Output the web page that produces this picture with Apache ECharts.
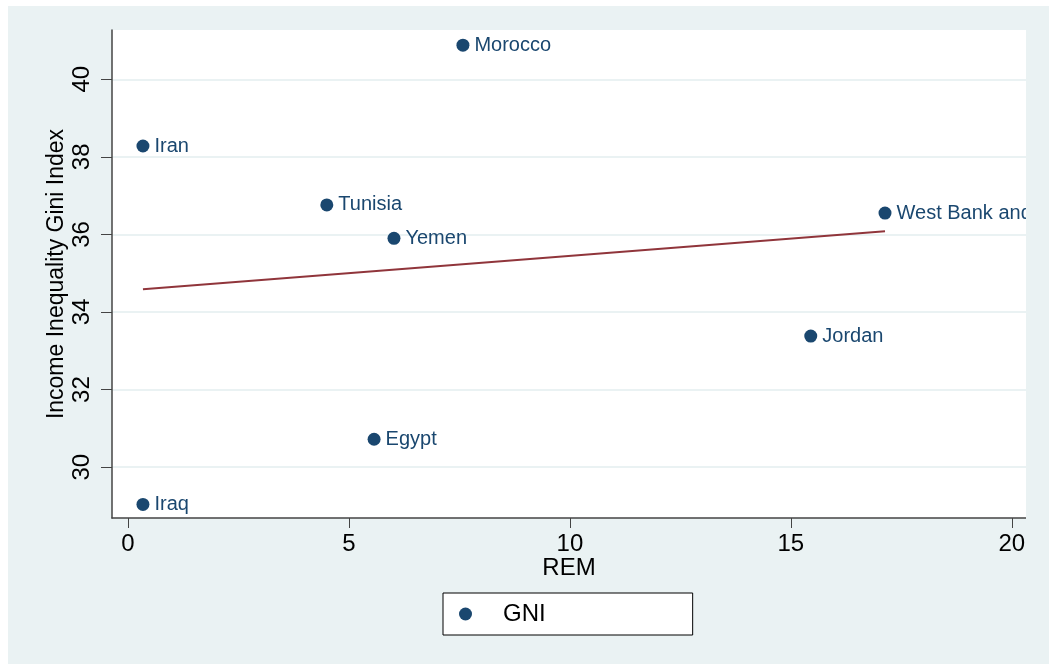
<!DOCTYPE html>
<html>
<head>
<meta charset="utf-8">
<script src="https://cdn.jsdelivr.net/npm/echarts@6/dist/echarts.min.js"></script>
<style>
  html, body { margin: 0; padding: 0; background: #fff; overflow: hidden; }
  #chart { position: absolute; left: 8px; top: 6px; width: 1041px; height: 658px; background: #eaf2f3; }
</style>
</head>
<body>
<div id="chart"></div>
<script>
// country points: REM vs Gini
const countries = ['Morocco', 'Iran', 'Tunisia', 'Yemen', 'West Bank and Gaza', 'Jordan', 'Egypt', 'Iraq'];
const rem = [7.58, 0.34, 4.50, 6.02, 17.13, 15.45, 5.57, 0.34];
const gini = [40.88, 38.28, 36.76, 35.90, 36.55, 33.38, 30.72, 29.04];

// fitted line end points
const fitX = [0.34, 17.13];
const fitY = [34.59, 36.08];

const xTicks = [0, 5, 10, 15, 20];
const yTicks = [30, 32, 34, 36, 38, 40];

const font = "'Liberation Sans', Arial, sans-serif";
const navy = '#1a476f';

const chart = echarts.init(document.getElementById('chart'));

const option = {
  animation: false,
  textStyle: { fontFamily: font },
  grid: {
    left: 104, top: 24, right: 23, bottom: 146,
    show: true, backgroundColor: '#fff', borderWidth: 0
  },
  xAxis: {
    type: 'value',
    min: -0.36, max: 20.32,
    name: 'REM',
    nameLocation: 'middle',
    nameGap: 38,
    nameMoveOverlap: false,
    nameTextStyle: { fontSize: 24, color: '#000', fontFamily: font },
    axisLine: { show: true, onZero: false, lineStyle: { color: '#444', width: 1.5 } },
    axisTick: { show: true, length: 10, customValues: xTicks, lineStyle: { color: '#444' } },
    axisLabel: { customValues: xTicks, fontSize: 24, color: '#000', margin: 14, fontFamily: font },
    splitLine: { show: false }
  },
  yAxis: {
    type: 'value',
    min: 28.69, max: 41.27,
    splitNumber: 6,
    name: 'Income Inequality Gini Index',
    nameLocation: 'middle',
    nameGap: 44,
    nameMoveOverlap: false,
    nameTextStyle: { fontSize: 23, color: '#000', fontFamily: font },
    axisLine: { show: true, onZero: false, lineStyle: { color: '#444', width: 1.5 } },
    axisTick: { show: true, length: 11, customValues: yTicks, lineStyle: { color: '#444' } },
    axisLabel: { customValues: yTicks, rotate: 90, fontSize: 24, color: '#000', margin: 18, fontFamily: font },
    splitLine: { show: true, lineStyle: { color: '#eaf2f3', width: 2 } }
  },
  legend: {
    data: ['GNI'],
    left: 435, top: 587,
    orient: 'horizontal',
    icon: 'circle',
    itemWidth: 13, itemHeight: 13,
    backgroundColor: '#fff',
    borderColor: '#000',
    borderWidth: 1,
    borderRadius: 0,
    padding: [9, 147, 9, 16],
    textStyle: { fontSize: 24, color: '#000', padding: [0, 0, 0, 26], fontFamily: font }
  },
  graphic: [{
    type: 'rect',
    right: 0, top: 0,
    shape: { width: 23, height: 658 },
    style: { fill: '#eaf2f3' },
    z: 100
  }],
  series: [
    {
      name: 'Fitted',
      type: 'line',
      data: fitX.map((x, i) => [x, fitY[i]]),
      symbol: 'none',
      lineStyle: { color: '#90353b', width: 2 },
      z: 1
    },
    {
      name: 'GNI',
      type: 'scatter',
      data: countries.map((c, i) => ({ name: c, value: [rem[i], gini[i]] })),
      symbol: 'circle',
      symbolSize: 13,
      itemStyle: { color: navy, opacity: 1 },
      label: {
        show: true,
        position: 'right',
        distance: 5,
        formatter: '{b}',
        fontSize: 20,
        color: navy,
        fontFamily: font
      },
      z: 3
    }
  ]
};

chart.setOption(option);
</script>
</body>
</html>
